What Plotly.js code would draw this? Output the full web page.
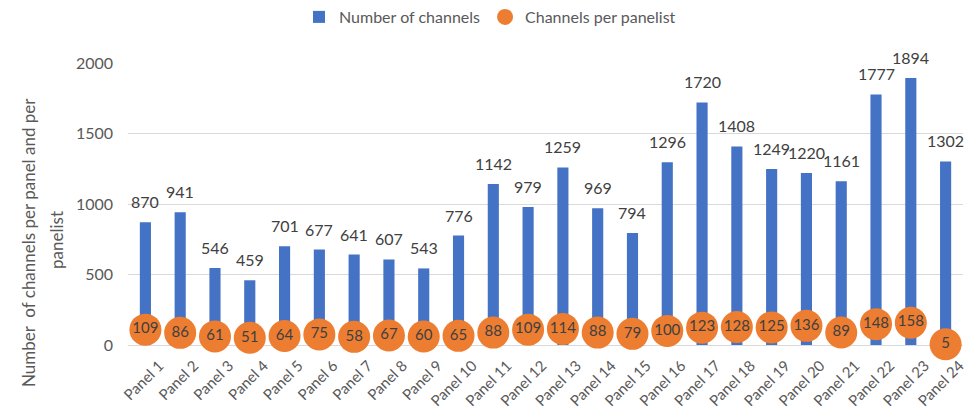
<!DOCTYPE html>
<html>
<head>
<meta charset="utf-8">
<script src="https://cdn.plot.ly/plotly-3.0.1.min.js"></script>
<style>html,body{margin:0;padding:0;background:#fff;}#chart{width:980px;height:415px;}</style>
</head>
<body>
<div id="chart"></div>
<script>
const panels = ["Panel 1","Panel 2","Panel 3","Panel 4","Panel 5","Panel 6","Panel 7","Panel 8","Panel 9","Panel 10","Panel 11","Panel 12","Panel 13","Panel 14","Panel 15","Panel 16","Panel 17","Panel 18","Panel 19","Panel 20","Panel 21","Panel 22","Panel 23","Panel 24"];
const numberOfChannels = [870,941,546,459,701,677,641,607,543,776,1142,979,1259,969,794,1296,1720,1408,1249,1220,1161,1777,1894,1302];
const channelsPerPanelist = [109,86,61,51,64,75,58,67,60,65,88,109,114,88,79,100,123,128,125,136,89,148,158,5];
const yTicks = [0,500,1000,1500,2000];

const FONT = "Lato, 'Open Sans', sans-serif";
const textGray = "#404040";
const axisGray = "#595959";

const traces = [
  {
    type: "bar",
    name: "Number of channels",
    x: panels,
    y: numberOfChannels,
    width: 0.32,
    marker: {color: "#4472C4"},
    hoverinfo: "x+y"
  },
  {
    type: "scatter",
    mode: "markers+text",
    name: "Channels per panelist",
    x: panels,
    y: channelsPerPanelist,
    text: channelsPerPanelist.map(String),
    textposition: "middle center",
    textfont: {family: FONT, size: 15, color: textGray},
    marker: {color: "#ED7D31", size: 32},
    cliponaxis: false
  }
];

const annotations = panels.map((p, i) => ({
  x: p, y: numberOfChannels[i], xref: "x", yref: "y",
  text: String(numberOfChannels[i]),
  showarrow: false, yanchor: "bottom", yshift: 9,
  font: {family: FONT, size: 16, color: textGray}
}));
annotations.push({
  xref: "paper", yref: "paper", x: (28-128)/835, y: (345-243)/282,
  xanchor: "center", yanchor: "middle", textangle: -90, showarrow: false,
  text: "Number  of channels per panel and per",
  font: {family: FONT, size: 17, color: axisGray}
});
annotations.push({
  xref: "paper", yref: "paper", x: (56-128)/835, y: (345-240)/282,
  xanchor: "center", yanchor: "middle", textangle: -90, showarrow: false,
  text: "panelist",
  font: {family: FONT, size: 17, color: axisGray}
});

const layout = {
  width: 980, height: 415,
  margin: {l: 128, r: 17, t: 63, b: 70, autoexpand: false},
  paper_bgcolor: "#fff", plot_bgcolor: "#fff",
  font: {family: FONT, color: axisGray},
  showlegend: true,
  legend: {
    orientation: "h", xref: "container", yref: "container",
    x: 0.5, xanchor: "center", y: 1 - 17/415, yanchor: "middle",
    font: {family: FONT, size: 16, color: axisGray},
    itemwidth: 30, traceorder: "normal"
  },
  xaxis: {
    type: "category", tickangle: -45, showgrid: false, showline: false,
    automargin: false, range: [-0.5, panels.length - 0.5],
    ticklabelstandoff: 8, ticklabelshift: 14,
    ticks: "", tickfont: {family: FONT, size: 15, color: axisGray}
  },
  yaxis: {
    range: [0, 2000], tickvals: yTicks, ticktext: yTicks.map(String),
    automargin: false,
    showgrid: true, gridcolor: "#D9D9D9", gridwidth: 1,
    zeroline: true, zerolinecolor: "#D9D9D9", zerolinewidth: 1,
    showline: false, ticks: "", ticklabelstandoff: 14,
    tickfont: {family: FONT, size: 16, color: axisGray}
  },
  annotations: annotations
};

Plotly.newPlot("chart", traces, layout, {displayModeBar: false, staticPlot: true});
</script>
</body>
</html>
